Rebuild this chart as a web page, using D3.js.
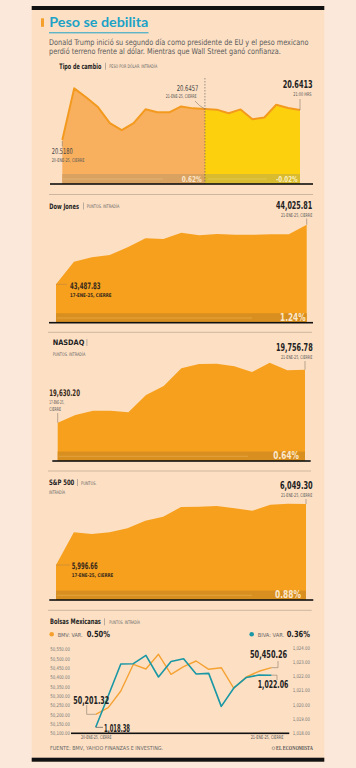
<!DOCTYPE html>
<html><head><meta charset="utf-8">
<script src="https://cdn.jsdelivr.net/npm/d3@7"></script>
<style>html,body{margin:0;padding:0;background:#fbe8da;} svg{display:block}</style>
</head><body><svg id="c" width="356" height="768"></svg>
<script>
// ---------- DATA ----------
const pesoValues = [20.518, 20.7307, 20.6942, 20.6536, 20.5875, 20.5591, 20.5875, 20.6443, 20.6321, 20.6321, 20.6564, 20.6483, 20.6457, 20.643, 20.628, 20.644, 20.6037, 20.6106, 20.6633, 20.6495, 20.6413];
const pesoSplitIndex = 12;
const pesoChanges = ["0.62%", "-0.02%"];
const dowValues = [43487.83, 43691.8, 43731.5, 43752.3, 43821.8, 43903.0, 43896.7, 43953.6, 43930.1, 43941.9, 43935.5, 43935.5, 43939.2, 43939.0, 44025.81];
const nasdaqValues = [19630.20, 19648.6, 19658.9, 19658.9, 19655.0, 19696.3, 19717.8, 19760.1, 19770.4, 19771.1, 19764.9, 19751.3, 19773.5, 19755.3, 19756.78];
const spValues = [5996.66, 6024.9, 6023.4, 6024.9, 6028.3, 6034.9, 6038.3, 6046.7, 6047.0, 6047.6, 6045.6, 6043.5, 6048.7, 6049.6, 6049.30];
const indexChanges = ["1.24%", "0.64%", "0.88%"];
const bmvValues = [50201.32, 50236.7, 50325.8, 50468.3, 50443.2, 50521.7, 50414.9, 50455.5, 50485.9, 50441.6, 50450.2, 50340.2, 50400.5, 50431.0, 50450.26];
const bivaValues = [1018.38, 1020.61, 1022.85, 1022.87, 1023.46, 1021.93, 1023.03, 1023.22, 1022.14, 1022.19, 1019.86, 1021.16, 1021.90, 1022.07, 1022.06];
const bmvTicks = [50100, 50150, 50200, 50250, 50300, 50350, 50400, 50450, 50500, 50550];
const bivaTicks = [1018, 1019, 1020, 1021, 1022, 1023, 1024];
const bolsaChanges = ["0.50%", "0.36%"];

// ---------- HELPERS ----------
const svg = d3.select("#c");
const F = "'DejaVu Sans Condensed','Liberation Sans Narrow','DejaVu Sans',sans-serif";
function T(x, y, s, o = {}) {
  const t = svg.append("text").text(s)
    .attr("font-size", o.size || 5).attr("font-weight", o.w || 400)
    .attr("fill", o.fill || "#555").attr("font-family", o.ff || F);
  if (o.len) {
    const w = t.node().getComputedTextLength();
    t.attr("transform", `translate(${x},${y}) scale(${o.len / w},1)`);
  } else t.attr("x", x).attr("y", y);
  return t;
}
function fitTicks(g, len) {
  g.selectAll("text").each(function () {
    const w = this.getComputedTextLength();
    d3.select(this).attr("transform", `scale(${len / w},1)`);
  });
}
function L(d, c = "#8a7a6a", w = 0.6) {
  svg.append("path").attr("d", d).attr("fill", "none").attr("stroke", c).attr("stroke-width", w);
}

// panel + bars
svg.append("rect").attr("x", 31.7).attr("y", 6).attr("width", 292.6).attr("height", 756).attr("fill", "#fde0c4");
svg.append("rect").attr("x", 31.7).attr("y", 6).attr("width", 292.6).attr("height", 4).attr("fill", "#111");
svg.append("rect").attr("x", 31.7).attr("y", 757.7).attr("width", 292.6).attr("height", 4).attr("fill", "#111");

// title
svg.append("rect").attr("x", 41).attr("y", 18.3).attr("width", 3).attr("height", 8.5).attr("fill", "#f5a02a");
T(49.3, 27.3, "Peso se debilita", {size: 14, w: 700, fill: "#1ca2c7", len: 99, ff: "Lato, 'DejaVu Sans', sans-serif"});
svg.append("rect").attr("x", 49).attr("y", 32.3).attr("width", 99.5).attr("height", 1).attr("fill", "#1ca2c7");
T(49, 45, "Donald Trump inició su segundo día como presidente de EU y el peso mexicano", {size: 8, fill: "#5a5a5a", len: 260});
T(49, 54.3, "perdió terreno frente al dólar. Mientras que Wall Street ganó confianza.", {size: 8, fill: "#5a5a5a", len: 232});

function header(x, y, bold, blen, sub, sx, slen, pipeX) {
  T(x, y, bold, {size: 7.5, w: 700, fill: "#222", len: blen});
  if (pipeX) svg.append("rect").attr("x", pipeX).attr("y", y - 6).attr("width", 0.5).attr("height", 7).attr("fill", "#777");
  if (sub) T(sx, y - 0.5, sub, {size: 4.8, fill: "#666", len: slen});
}
function sep(y, x0, x1) { L(`M${x0},${y}H${x1}`, "#b9a48e", 0.7); }
function axisLine(y, x0, x1) { svg.append("rect").attr("x", x0).attr("y", y - 0.8).attr("width", x1 - x0).attr("height", 1.6).attr("fill", "#111"); }

// ---------- PESO ----------
header(59.3, 68.7, "Tipo de cambio", 42, "PESO POR DÓLAR. INTRADÍA", 109.3, 48, 105);
{
  const base = 184;
  const x = d3.scaleLinear().domain([0, pesoValues.length - 1]).range([62.3, 300]);
  const y = d3.scaleLinear().domain([pesoValues[0], pesoValues[pesoSplitIndex]]).range([140, 109]);
  const area = d3.area().x(d => x(d.i)).y0(base).y1(d => y(d.v));
  const pts = pesoValues.map((v, i) => ({v, i}));
  svg.append("path").attr("d", area(pts.slice(0, pesoSplitIndex + 1))).attr("fill", "#f8af5e");
  svg.append("path").attr("d", area(pts.slice(pesoSplitIndex))).attr("fill", "#fdd00d");
  svg.append("path").attr("d", d3.line().x(d => x(d.i)).y(d => y(d.v))(pts)).attr("fill", "none").attr("stroke", "#f39a1e").attr("stroke-width", 2).attr("stroke-linejoin", "round");
  svg.append("rect").attr("x", x(0)).attr("y", 174).attr("width", x(pesoSplitIndex) - x(0)).attr("height", base - 174).attr("fill", "#d9a260");
  svg.append("rect").attr("x", x(pesoSplitIndex)).attr("y", 174).attr("width", x(pesoValues.length - 1) - x(pesoSplitIndex)).attr("height", base - 174).attr("fill", "#d8bb2e");
  L(`M63,179H163`, "#e6b679", 0.8);
  L(`M208,179H267`, "#e6cc55", 0.8);
  T(181.7, 181.8, pesoChanges[0], {size: 8, w: 700, fill: "#fde8cc", len: 20});
  T(276, 181.8, pesoChanges[1], {size: 8, w: 700, fill: "#fdf0c0", len: 21.7});
  svg.append("line").attr("x1", x(pesoSplitIndex)).attr("x2", x(pesoSplitIndex)).attr("y1", 78).attr("y2", base)
    .attr("stroke", "#555").attr("stroke-width", 0.6).attr("stroke-dasharray", "1.5,1.5");
  axisLine(base, 50, 313);
  L(`M${x(0)},${y(pesoValues[0]) + 1}V146.5`, "#8a7a6a");
  T(51.7, 154.3, "20.5180", {size: 8, fill: "#444", len: 21});
  T(51.7, 162.3, "20-ENE-25, CIERRE", {size: 5, fill: "#555", len: 32.7});
  T(176.7, 90.7, "20.6457", {size: 8, fill: "#444", len: 21.7});
  T(165.7, 98, "21-ENE-25, CIERRE", {size: 5, fill: "#555", len: 31});
  L(`M195,101Q199,106 ${x(pesoSplitIndex)},${y(pesoValues[pesoSplitIndex])}`, "#8a7a6a");
  T(282.7, 88.3, "20.6413", {size: 10.5, w: 700, fill: "#222", len: 30});
  T(293.3, 96, "21:00 HRS", {size: 5, fill: "#555", len: 18.3});
  L(`M300,99V${y(pesoValues[pesoValues.length - 1])}`, "#8a7a6a");
}
sep(194.5, 49, 313);

// ---------- INDEX CHARTS ----------
function indexChart(o) {
  const x = d3.scaleLinear().domain([0, o.vals.length - 1]).range([o.x0, o.x1]);
  const y = d3.scaleLinear().domain([o.vals[0], o.vals[o.vals.length - 1]]).range([o.yStart, o.yEnd]);
  const area = d3.area().x((d, i) => x(i)).y0(o.base).y1(d => y(d));
  svg.append("path").attr("d", area(o.vals)).attr("fill", "#f6a01e");
  svg.append("rect").attr("x", o.x0).attr("y", o.base - 9.5).attr("width", o.x1 - o.x0).attr("height", 9.5).attr("fill", "#d98f1f");
  L(`M${o.x0 + 1},${o.base - 4.7}H${o.lineEnd}`, "#eaa845", 0.8);
  T(o.pctX, o.base - 1.6, o.pct, {size: 10, w: 700, fill: "#fde8cc", len: o.pctLen});
  axisLine(o.base, o.ax0, o.ax1);
  return {x, y};
}

// Dow
header(49.3, 208.5, "Dow Jones", 29.7, "PUNTOS. INTRADÍA", 86.7, 32.6, 83.3);
{
  const c = indexChart({vals: dowValues, x0: 56, x1: 306.7, yStart: 284.3, yEnd: 224.7, base: 322.7, ax0: 49, ax1: 313, lineEnd: 252, pct: indexChanges[0], pctX: 280, pctLen: 25.7});
  T(276, 209, "44,025.81", {size: 10.5, w: 700, fill: "#222", len: 36.3});
  T(281, 216.7, "21-ENE-25, CIERRE", {size: 5, fill: "#555", len: 31.3});
  L(`M${c.x(dowValues.length - 1)},218.5V${c.y(dowValues[dowValues.length - 1])}`);
  L(`M${c.x(0)},${c.y(dowValues[0])}H67`, "#c98a3a", 0.7);
  T(70, 289.3, "43,487.83", {size: 9, w: 700, fill: "#3a2a1a", len: 30.7});
  T(70, 296.7, "17-ENE-25, CIERRE", {size: 5, w: 700, fill: "#3a2a1a", len: 41.7});
}
sep(332.3, 48, 312);

// NASDAQ
T(52.7, 345, "NASDAQ", {size: 7.5, w: 700, fill: "#222", len: 31.6});
svg.append("rect").attr("x", 86.7).attr("y", 339).attr("width", 0.5).attr("height", 7).attr("fill", "#777");
T(52.7, 355.7, "PUNTOS. INTRADÍA", {size: 4.8, fill: "#666", len: 32.6});
{
  const c = indexChart({vals: nasdaqValues, x0: 57.7, x1: 305, yStart: 422.7, yEnd: 369.7, base: 461, ax0: 52.3, ax1: 310.7, lineEnd: 248, pct: indexChanges[1], pctX: 273.3, pctLen: 25.7});
  T(276, 351, "19,756.78", {size: 10.5, w: 700, fill: "#222", len: 36.7});
  T(281, 358.7, "21-ENE-25, CIERRE", {size: 5, fill: "#555", len: 31.3});
  L(`M${c.x(nasdaqValues.length - 1)},361V${c.y(nasdaqValues[nasdaqValues.length - 1])}`);
  L(`M${c.x(0)},413V${c.y(nasdaqValues[0])}`);
  T(49.3, 396.3, "19,630.20", {size: 9, w: 700, fill: "#3a2a1a", len: 30.7});
  T(49.3, 404, "17-ENE-25,", {size: 5, fill: "#555", len: 15});
  T(49.3, 411, "CIERRE", {size: 5, fill: "#555", len: 11.7});
}
sep(471, 48, 311);

// S&P 500
header(49, 485, "S&P 500", 25.3, "PUNTOS.", 81, 15.7, 77.5);
T(49, 494.3, "INTRADÍA", {size: 4.8, fill: "#666", len: 16});
{
  const c = indexChart({vals: spValues, x0: 56, x1: 306, yStart: 565, yEnd: 504, base: 600, ax0: 49.3, ax1: 313.3, lineEnd: 252, pct: indexChanges[2], pctX: 275, pctLen: 26});
  T(280, 489.3, "6,049.30", {size: 10.5, w: 700, fill: "#222", len: 32.7});
  T(281, 497, "21-ENE-25, CIERRE", {size: 5, fill: "#555", len: 31.3});
  L(`M${c.x(spValues.length - 1)},499V${c.y(spValues[spValues.length - 1])}`);
  L(`M${c.x(0)},${c.y(spValues[0])}H70`, "#c98a3a", 0.7);
  T(71.7, 569.3, "5,996.66", {size: 9, w: 700, fill: "#3a2a1a", len: 26});
  T(71.7, 577, "17-ENE-25, CIERRE", {size: 5, w: 700, fill: "#3a2a1a", len: 41.7});
}
sep(610.3, 48, 311.7);

// ---------- BOLSAS ----------
header(50, 624.3, "Bolsas Mexicanas", 51, "PUNTOS. INTRADÍA", 109.3, 30.7, 104.5);
svg.append("circle").attr("cx", 51.7).attr("cy", 634.3).attr("r", 2.3).attr("fill", "#f5a02c");
T(57.7, 636.7, "BMV: VAR.", {size: 5.5, fill: "#666", len: 25});
T(86.7, 637.3, bolsaChanges[0], {size: 8.5, w: 700, fill: "#222", len: 23.3});
svg.append("circle").attr("cx", 251.7).attr("cy", 634.3).attr("r", 2.3).attr("fill", "#1b98a6");
T(257.7, 636.7, "BIVA: VAR.", {size: 5.5, fill: "#666", len: 26.6});
T(286.7, 637.3, bolsaChanges[1], {size: 8.5, w: 700, fill: "#222", len: 23.3});
{
  const x = d3.scaleLinear().domain([0, bmvValues.length - 1]).range([95.7, 271.5]);
  const yL = d3.scaleLinear().domain([50100, 50550]).range([733.3, 649]);
  const yR = d3.scaleLinear().domain([1018, 1024]).range([732.7, 647.7]);
  const gl = svg.append("g").attr("transform", "translate(70,0)")
    .call(d3.axisLeft(yL).tickValues(bmvTicks).tickSize(0).tickPadding(0).tickFormat(d3.format(",.2f")));
  const gr = svg.append("g").attr("transform", "translate(292.7,0)")
    .call(d3.axisRight(yR).tickValues(bivaTicks).tickSize(0).tickPadding(0).tickFormat(d3.format(",.2f")));
  [gl, gr].forEach(g => {
    g.select(".domain").remove();
    g.selectAll("text").attr("font-family", F).attr("font-size", 5.2).attr("fill", "#777");
  });
  fitTicks(gl, 19.7);
  fitTicks(gr, 17.3);
  axisLine(733.3, 71, 289.3);
  svg.append("path").attr("d", d3.line().x((d, i) => x(i)).y(d => yL(d))(bmvValues)).attr("fill", "none").attr("stroke", "#f5a233").attr("stroke-width", 1.4).attr("stroke-linejoin", "round");
  svg.append("path").attr("d", d3.line().x((d, i) => x(i)).y(d => yR(d))(bivaValues)).attr("fill", "none").attr("stroke", "#1a97a5").attr("stroke-width", 1.6).attr("stroke-linejoin", "round");
  const n = bmvValues.length - 1;
  L(`M86.7,705V${yL(bmvValues[0])}H${x(0)}`);
  T(73.3, 704, "50,201.32", {size: 10, w: 700, fill: "#222", len: 36});
  L(`M${x(0)},${yR(bivaValues[0])}H103`, "#555", 0.7);
  T(104, 731.7, "1,018.38", {size: 10, w: 700, fill: "#222", len: 26});
  L(`M${x(n)},${yL(bmvValues[n])}H278V661`);
  T(250, 658.3, "50,450.26", {size: 10.5, w: 700, fill: "#222", len: 37.3});
  L(`M${x(n)},${yR(bivaValues[n])}H277V680`);
  T(257.7, 688.3, "1,022.06", {size: 10.5, w: 700, fill: "#222", len: 30.7});
  T(81, 739.3, "20-ENE-25, CIERRE", {size: 5, fill: "#555", len: 30.7});
  T(250.7, 739.3, "21-ENE-25, CIERRE", {size: 5, fill: "#555", len: 32.7});
}
T(50, 750, "FUENTE: BMV, YAHOO FINANZAS E INVESTING.", {size: 5.5, fill: "#666", len: 113.3});
svg.append("circle").attr("cx", 273.5).attr("cy", 748.2).attr("r", 1.4).attr("fill", "none").attr("stroke", "#666").attr("stroke-width", 0.5);
T(276, 750, "EL ECONOMISTA", {size: 5.5, w: 700, fill: "#555", len: 37, ff: "'Liberation Serif', 'DejaVu Serif', serif"});
</script></body></html>
